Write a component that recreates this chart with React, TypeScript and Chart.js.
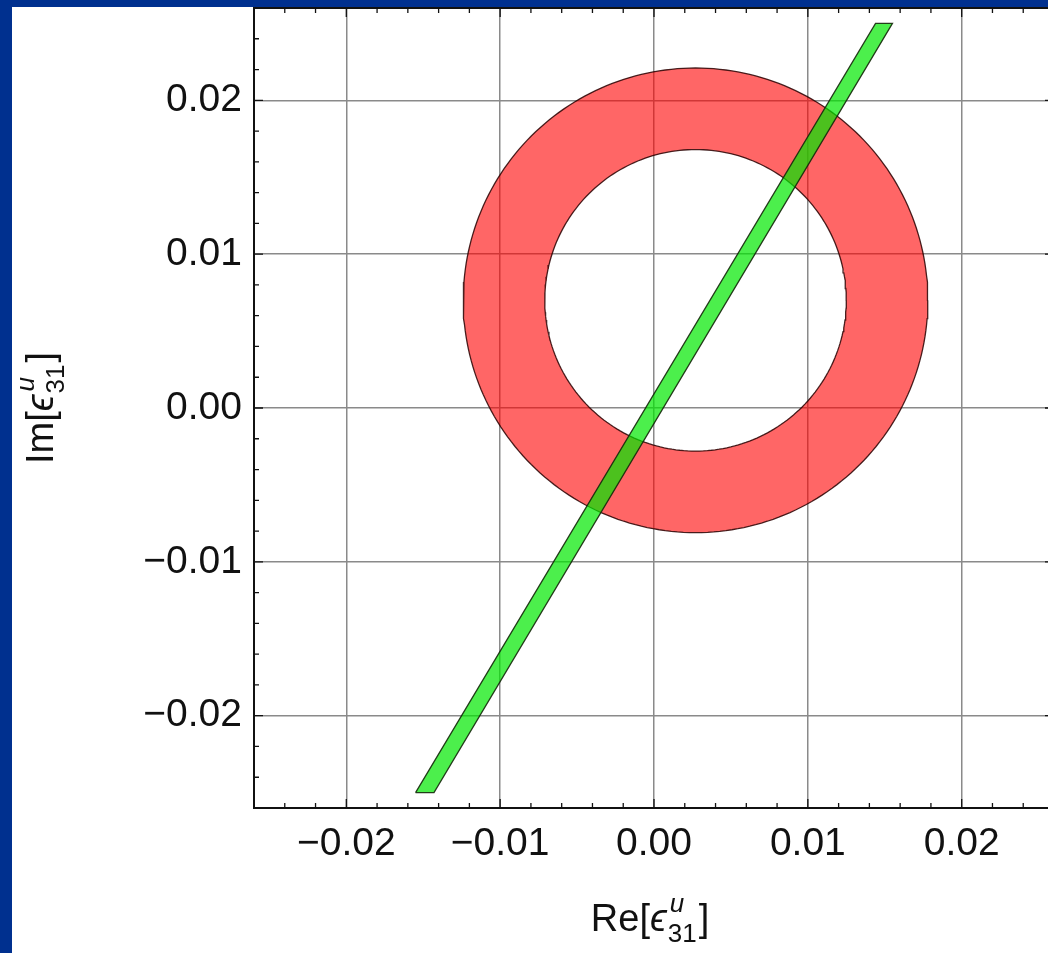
import { useEffect, useRef } from "react";
import { Chart, registerables } from "chart.js";

Chart.register(...registerables);

// ---- data ----
const xTickValues = [-0.02, -0.01, 0, 0.01, 0.02];
const yTickValues = [-0.02, -0.01, 0, 0.01, 0.02];
const tickLabels = ["\u22120.02", "\u22120.01", "0.00", "0.01", "0.02"];
const axisMin = -0.026;
const axisMax = 0.026;
const minorStep = 0.002;

// red annulus (center, inner and outer radius)
const ringCenterX = 0.0027;
const ringCenterY = 0.007;
const ringInnerRadius = 0.0098;
const ringOuterRadius = 0.0151;

// green band corners
const bandX = [-0.0155, -0.0143, 0.0155, 0.0144];
const bandY = [-0.025, -0.025, 0.025, 0.025];

const FONT = '"Liberation Sans", Arial, "DejaVu Sans", sans-serif';
const CANVAS_W = 1100;
const CANVAS_H = 946;

function circlePoints(cx: number, cy: number, r: number, reverse: boolean) {
  const n = 240;
  const pts: { x: number; y: number }[] = [];
  for (let i = 0; i <= n; i++) {
    const t = ((reverse ? n - i : i) / n) * Math.PI * 2;
    pts.push({ x: cx + r * Math.cos(t), y: cy + r * Math.sin(t) });
  }
  return pts;
}

function labelFor(values: number[], v: number) {
  const i = values.findIndex((t) => Math.abs(t - v) < 1e-9);
  return i >= 0 ? tickLabels[i] : "";
}

function drawEpsLabel(
  ctx: CanvasRenderingContext2D,
  prefix: string,
  cx: number,
  baseline: number,
  size: number
) {
  const main = `${size}px ${FONT}`;
  const epsFont = `italic ${size}px ${FONT}`;
  const small = `${Math.round(size * 0.68)}px ${FONT}`;
  const smallIt = `italic ${Math.round(size * 0.68)}px ${FONT}`;
  ctx.font = main;
  const wPre = ctx.measureText(prefix + "[").width;
  ctx.font = epsFont;
  const wEps = ctx.measureText("\u03F5").width;
  ctx.font = small;
  const wSub = ctx.measureText("31").width;
  ctx.font = smallIt;
  const wSup = ctx.measureText("u").width;
  const wScript = Math.max(wSub, wSup);
  ctx.font = main;
  const wClose = ctx.measureText("]").width;
  const total = wPre + wEps + 1 + wScript + 2 + wClose;
  let x = cx - total / 2;
  ctx.fillStyle = "#111";
  ctx.textAlign = "left";
  ctx.textBaseline = "alphabetic";
  ctx.font = main;
  ctx.fillText(prefix + "[", x, baseline);
  x += wPre;
  ctx.font = epsFont;
  ctx.fillText("\u03F5", x, baseline);
  x += wEps + 1;
  ctx.font = smallIt;
  ctx.fillText("u", x + 2, baseline - size * 0.5);
  ctx.font = small;
  ctx.fillText("31", x, baseline + size * 0.28);
  x += wScript + 2;
  ctx.font = main;
  ctx.fillText("]", x, baseline);
}

const framePlugin = {
  id: "frameTicks",
  afterDraw(chart: any) {
    const { ctx, chartArea } = chart;
    const { left, right, top, bottom } = chartArea;
    const xs = chart.scales.x;
    const ys = chart.scales.y;
    ctx.save();
    ctx.strokeStyle = "#111";
    ctx.lineWidth = 1.3;
    const start = Math.ceil(axisMin / minorStep - 1e-9);
    const end = Math.floor(axisMax / minorStep + 1e-9);
    for (let k = start; k <= end; k++) {
      const v = k * minorStep;
      const major = k % 5 === 0;
      const len = major ? 9 : 5;
      const px = xs.getPixelForValue(v);
      const py = ys.getPixelForValue(v);
      ctx.beginPath();
      ctx.moveTo(px, bottom);
      ctx.lineTo(px, bottom - len);
      ctx.moveTo(px, top);
      ctx.lineTo(px, top + len);
      ctx.moveTo(left, py);
      ctx.lineTo(left + len, py);
      ctx.moveTo(right, py);
      ctx.lineTo(right - len, py);
      ctx.stroke();
    }
    ctx.lineWidth = 2;
    ctx.strokeRect(left, top, right - left, bottom - top);

    // axis titles
    drawEpsLabel(ctx, "Re", 638, 924, 38);
    ctx.translate(41, 401);
    ctx.rotate(-Math.PI / 2);
    drawEpsLabel(ctx, "Im", 0, 0, 38);
    ctx.restore();
  },
};

export default function App() {
  const ref = useRef<HTMLCanvasElement | null>(null);

  useEffect(() => {
    if (!ref.current) return;
    const ringFill = [
      ...circlePoints(ringCenterX, ringCenterY, ringOuterRadius, false),
      ...circlePoints(ringCenterX, ringCenterY, ringInnerRadius, true),
    ];
    const band = bandX.map((x, i) => ({ x, y: bandY[i] }));
    band.push({ x: bandX[0], y: bandY[0] });

    const chart = new Chart(ref.current, {
      type: "scatter",
      data: {
        datasets: [
          {
            data: band,
            showLine: true,
            pointRadius: 0,
            fill: "shape",
            backgroundColor: "rgba(0,232,0,0.70)",
            borderColor: "rgba(20,40,10,0.9)",
            borderWidth: 1.3,
            tension: 0,
          } as any,
          {
            data: circlePoints(ringCenterX, ringCenterY, ringOuterRadius, false),
            showLine: true,
            pointRadius: 0,
            fill: false,
            borderColor: "rgba(40,0,0,0.85)",
            borderWidth: 1.3,
            tension: 0,
          },
          {
            data: circlePoints(ringCenterX, ringCenterY, ringInnerRadius, false),
            showLine: true,
            pointRadius: 0,
            fill: false,
            borderColor: "rgba(40,0,0,0.85)",
            borderWidth: 1.3,
            tension: 0,
          },
          {
            data: ringFill,
            showLine: true,
            pointRadius: 0,
            fill: "shape",
            backgroundColor: "rgba(255,0,0,0.6)",
            borderWidth: 0,
            borderColor: "rgba(0,0,0,0)",
            tension: 0,
          } as any,
        ],
      },
      options: {
        responsive: false,
        animation: false,
        layout: { padding: { top: 1, right: 58, left: 0, bottom: 0 } },
        plugins: { legend: { display: false }, tooltip: { enabled: false } },
        scales: {
          x: {
            type: "linear",
            min: axisMin,
            max: axisMax,
            afterBuildTicks: (a: any) => {
              a.ticks = xTickValues.map((v) => ({ value: v }));
            },
            afterFit: (s: any) => {
              s.height = 145;
              s.paddingLeft = 0;
              s.paddingRight = 0;
            },
            grid: { color: "#8a8a8a", lineWidth: 1.5, drawTicks: false },
            border: { display: false },
            ticks: {
              padding: 13,
              color: "#111",
              font: { family: FONT, size: 39 },
              maxRotation: 0,
              autoSkip: false,
              callback: (v: any) => labelFor(xTickValues, Number(v)),
            },
          },
          y: {
            type: "linear",
            min: axisMin,
            max: axisMax,
            afterBuildTicks: (a: any) => {
              a.ticks = yTickValues.map((v) => ({ value: v }));
            },
            afterFit: (s: any) => {
              s.width = 242;
              s.paddingTop = 0;
              s.paddingBottom = 0;
            },
            grid: { color: "#8a8a8a", lineWidth: 1.5, drawTicks: false },
            border: { display: false },
            ticks: {
              padding: 12,
              color: "#111",
              font: { family: FONT, size: 39 },
              autoSkip: false,
              callback: (v: any) => labelFor(yTickValues, Number(v)),
            },
          },
        },
      },
      plugins: [framePlugin],
    });
    return () => chart.destroy();
  }, []);

  return (
    <div
      style={{
        position: "fixed",
        left: 0,
        top: 0,
        width: 1048,
        height: 953,
        overflow: "hidden",
        background: "#00308f",
      }}
    >
      <div
        style={{
          position: "absolute",
          left: 12,
          top: 7,
          width: CANVAS_W,
          height: CANVAS_H,
          background: "#ffffff",
        }}
      >
        <canvas
          ref={ref}
          width={CANVAS_W}
          height={CANVAS_H}
          style={{ display: "block", width: CANVAS_W, height: CANVAS_H }}
        />
      </div>
    </div>
  );
}
